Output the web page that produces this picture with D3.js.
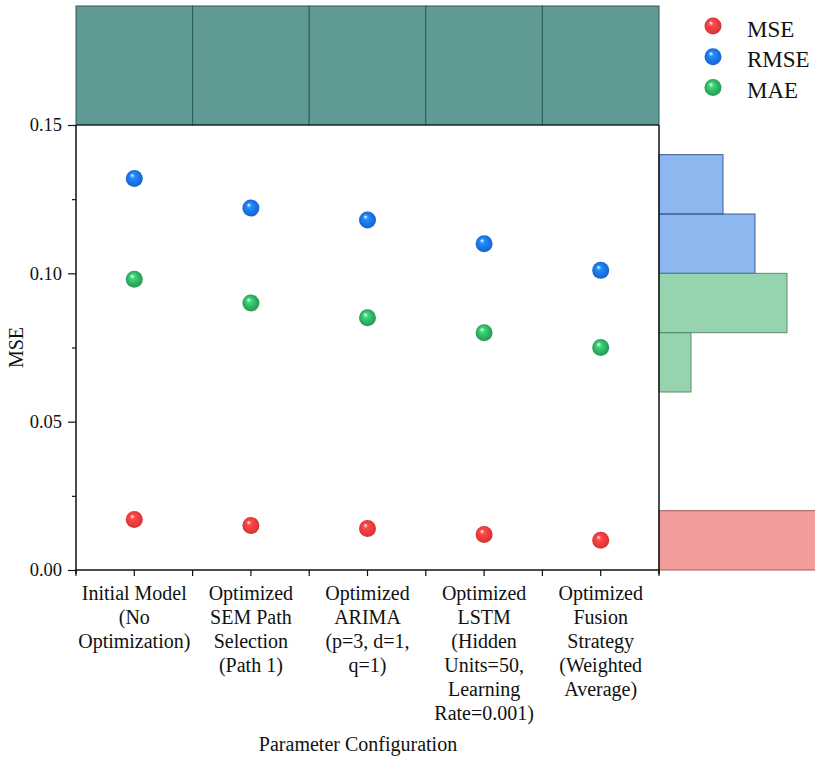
<!DOCTYPE html>
<html><head><meta charset="utf-8">
<script src="https://cdn.jsdelivr.net/npm/d3@7"></script>
<style>body{margin:0;background:#fff}svg{display:block}text{font-family:"Liberation Serif","Times New Roman",serif;fill:#111}</style>
</head><body>
<script>
const categories = [
  ["Initial Model","(No","Optimization)"],
  ["Optimized","SEM Path","Selection","(Path 1)"],
  ["Optimized","ARIMA","(p=3, d=1,","q=1)"],
  ["Optimized","LSTM","(Hidden","Units=50,","Learning","Rate=0.001)"],
  ["Optimized","Fusion","Strategy","(Weighted","Average)"]
];
const seriesNames = ["MSE","RMSE","MAE"];
const mseValues  = [0.017,0.015,0.014,0.012,0.010];
const rmseValues = [0.132,0.122,0.118,0.110,0.101];
const maeValues  = [0.098,0.090,0.085,0.080,0.075];
const yTicks = [0.00,0.05,0.10,0.15];
const yMinorTicks = [0.025,0.075,0.125];
const binEdges = [0,0.02,0.04,0.06,0.08,0.10,0.12,0.14];
const colors = {MSE:"#e8393a", RMSE:"#1a6fe0", MAE:"#2eaa5f"};
const strokes = {MSE:"#a05a5a", RMSE:"#3a5a96", MAE:"#5f8a6c"};

const W=815,H=758;
const L=76,R=659,T=125,B=570;
const FONT="'Liberation Serif','Times New Roman',serif";
const svg=d3.select("body").append("svg").attr("width",W).attr("height",H);
const defs=svg.append("defs");
seriesNames.forEach(n=>{
  const c=d3.color(colors[n]);
  const g=defs.append("radialGradient").attr("id","g"+n).attr("cx","0.5").attr("cy","0.5").attr("r","0.55").attr("fx","0.36").attr("fy","0.3");
  g.append("stop").attr("offset","0%").attr("stop-color","#ffffff");
  g.append("stop").attr("offset","25%").attr("stop-color",c.brighter(0.7));
  g.append("stop").attr("offset","70%").attr("stop-color",c);
  g.append("stop").attr("offset","100%").attr("stop-color",c.darker(0.4));
});

const x=d3.scaleBand().domain(d3.range(categories.length)).range([L,R]);
const y=d3.scaleLinear().domain([0,0.15]).range([B,T]);

const series=[{name:"MSE",vals:mseValues},{name:"RMSE",vals:rmseValues},{name:"MAE",vals:maeValues}];

// top histogram (count per category)
const topCounts=categories.map((c,i)=>series.filter(s=>s.vals[i]!=null).length);
const hTop=d3.scaleLinear().domain([0,3]).range([0,119]);
svg.append("g").selectAll("rect").data(topCounts).join("rect")
  .attr("x",(d,i)=>x(i)).attr("width",x.bandwidth())
  .attr("y",d=>T-hTop(d)).attr("height",d=>hTop(d))
  .attr("fill","#5f9a94").attr("stroke","#2c5d55").attr("stroke-width",1);

// right histogram
const hR=d3.scaleLinear().domain([0,5]).range([0,160]);
const bin=d3.bin().domain([0,0.14]).thresholds(binEdges.slice(1,-1));
const rg=svg.append("g");
series.forEach(s=>{
  const bins=bin(s.vals).filter(b=>b.length>0);
  rg.selectAll(null).data(bins).join("rect")
    .attr("x",R).attr("width",d=>hR(d.length))
    .attr("y",d=>y(d.x1)).attr("height",d=>y(d.x0)-y(d.x1))
    .attr("fill",colors[s.name]).attr("fill-opacity",0.5)
    .attr("stroke",strokes[s.name]).attr("stroke-width",1);
});

// frame
svg.append("line").attr("x1",L).attr("x2",R).attr("y1",T).attr("y2",T).attr("stroke","#111").attr("stroke-width",1.2);
svg.append("line").attr("x1",R).attr("x2",R).attr("y1",T).attr("y2",B+4).attr("stroke","#111").attr("stroke-width",1.5);

// y axis
const ya=svg.append("g").attr("transform",`translate(${L},0)`);
ya.call(d3.axisLeft(y).tickValues(yTicks).tickFormat(d3.format(".2f")).tickSize(8).tickPadding(6));
ya.append("g").call(d3.axisLeft(y).tickValues(yMinorTicks).tickFormat("").tickSize(4));
ya.selectAll("path.domain").remove();
ya.selectAll("line").attr("stroke","#111").attr("stroke-width",1.2);
ya.selectAll("text").style("font-size","18.5px").attr("fill","#111");
svg.append("line").attr("x1",L).attr("x2",L).attr("y1",T).attr("y2",B+4).attr("stroke","#111").attr("stroke-width",1.5);

// x axis
const xa=svg.append("g").attr("transform",`translate(0,${B})`);
xa.append("line").attr("x1",L).attr("x2",R).attr("stroke","#111").attr("stroke-width",1.5);
const xt=d3.range(categories.length).map(i=>x(i)+x.bandwidth()/2);
const xb=d3.range(categories.length+1).map(i=>L+i*x.bandwidth());
xa.selectAll("line.t").data(xt.concat(xb)).join("line").attr("class","t")
  .attr("x1",d=>d).attr("x2",d=>d).attr("y1",0).attr("y2",6).attr("stroke","#111").attr("stroke-width",1.2);
const lab=xa.selectAll("text.c").data(categories).join("text").attr("class","c")
  .attr("text-anchor","middle").style("font-size","20px");
lab.each(function(lines,i){
  d3.select(this).selectAll("tspan").data(lines).join("tspan")
    .attr("x",xt[i]).attr("y",(d,j)=>30+j*24).text(d=>d);
});

svg.append("text").attr("x",358).attr("y",751).attr("text-anchor","middle").style("font-size","20px").text("Parameter Configuration");
svg.append("text").attr("transform",`translate(23,${(T+B)/2}) rotate(-90)`).attr("text-anchor","middle").style("font-size","20px").text("MSE");

// points
const pg=svg.append("g");
series.forEach(s=>{
  pg.selectAll(null).data(s.vals).join("circle")
    .attr("cx",(d,i)=>xt[i]).attr("cy",d=>y(d)).attr("r",8.5)
    .attr("fill",`url(#g${s.name})`);
});

// legend
const lg=svg.append("g");
seriesNames.forEach((n,i)=>{
  const yy=26+i*30.8;
  lg.append("circle").attr("cx",713).attr("cy",yy).attr("r",8.5).attr("fill",`url(#g${n})`);
  lg.append("text").attr("x",747).attr("y",yy+10.5).style("font-size","23px").text(n);
});

svg.selectAll("text").style("font-family",FONT);
</script>
</body></html>
